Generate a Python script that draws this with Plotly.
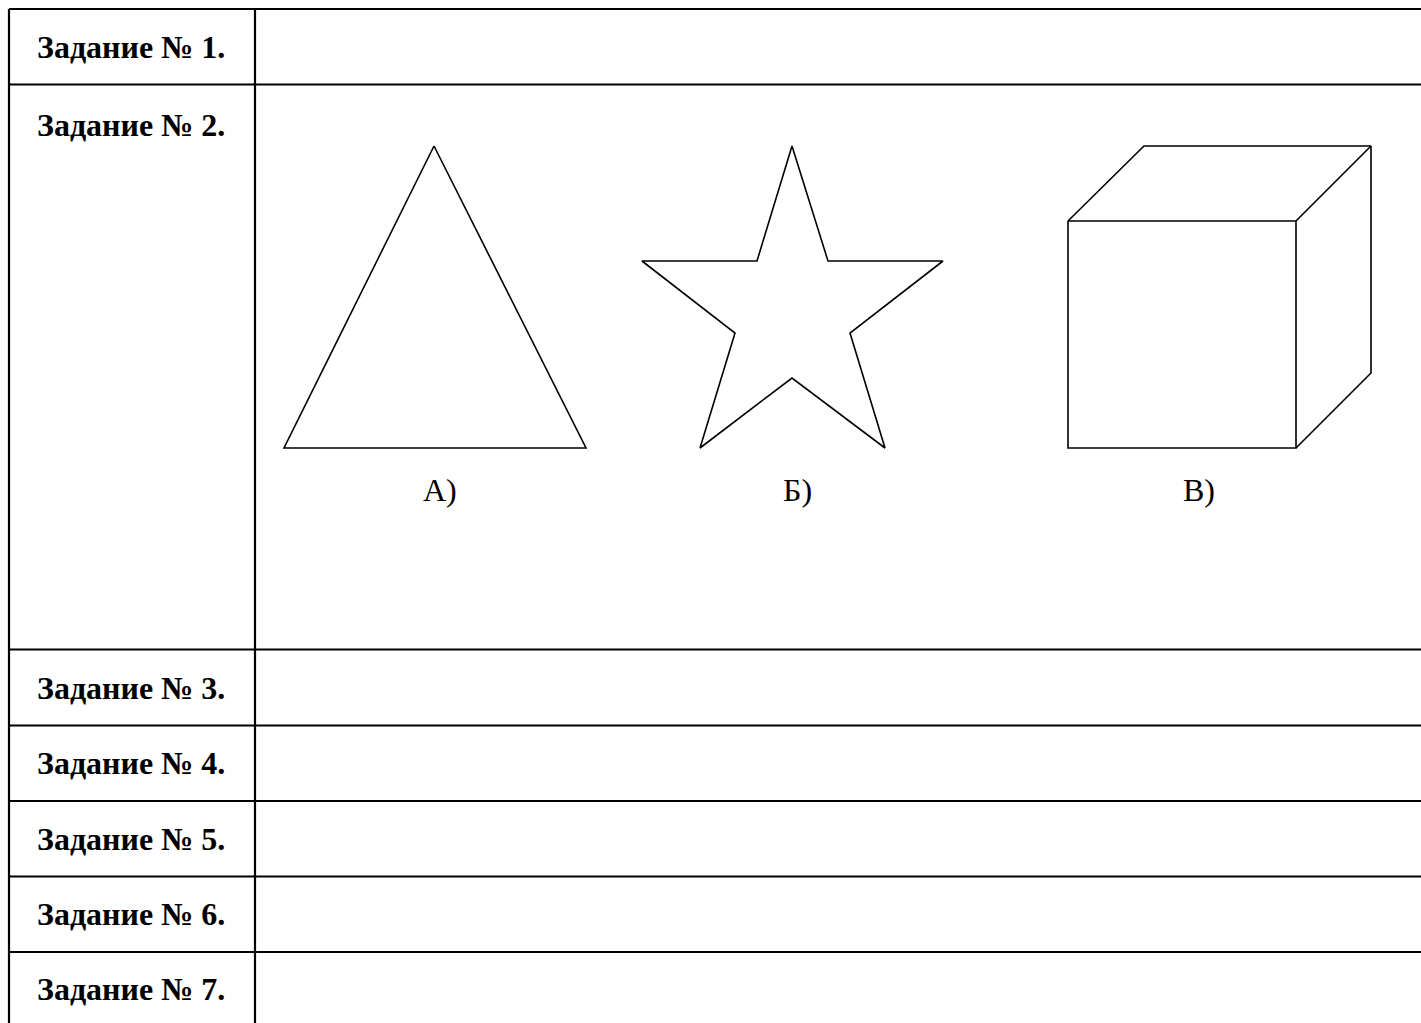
import plotly.graph_objects as go

# table layout (page pixels)
row_labels = ["Задание № 1.", "Задание № 2.", "Задание № 3.", "Задание № 4.",
              "Задание № 5.", "Задание № 6.", "Задание № 7."]
row_edges = [9, 84.5, 649.5, 725.5, 801, 876.5, 952, 1023]
col_edges = [9, 255]
table_right = 1421

# figures in task 2
triangle_x = [434, 284, 586, 434]
triangle_y = [146, 448, 448, 146]

star_x = [792, 828, 943, 850, 885, 792, 700, 735, 642, 757, 792]
star_y = [146, 261, 261, 333, 448, 378, 448, 333, 261, 261, 146]

cube_x = [1068, 1296, 1296, 1068, 1068, None, 1068, 1144, 1371, 1296, None, 1371, 1371, 1296]
cube_y = [221, 221, 448, 448, 221, None, 221, 146, 146, 221, None, 146, 373, 448]

figure_labels = ["А)", "Б)", "В)"]
figure_label_x = [440, 797, 1199]
figure_label_y = 489.5

fig = go.Figure()

# grid lines
grid_x, grid_y = [], []
for y in row_edges[:-1]:
    grid_x += [col_edges[0], table_right, None]
    grid_y += [y, y, None]
for x in col_edges:
    grid_x += [x, x, None]
    grid_y += [row_edges[0], row_edges[-1], None]
fig.add_trace(go.Scatter(x=grid_x, y=grid_y, mode="lines",
                         line=dict(color="black", width=2.2), hoverinfo="skip"))

for xs, ys in [(triangle_x, triangle_y), (star_x, star_y), (cube_x, cube_y)]:
    fig.add_trace(go.Scatter(x=xs, y=ys, mode="lines",
                             line=dict(color="black", width=1.6), hoverinfo="skip"))

# row headers
for i, label in enumerate(row_labels):
    top, bottom = row_edges[i], row_edges[i + 1]
    y = 124.5 if i == 1 else (top + bottom) / 2
    if i == 6:
        y = 988.5
    fig.add_annotation(x=35, y=y, text="<b>" + label + "</b>", showarrow=False,
                       xanchor="left", yanchor="middle",
                       font=dict(family="Liberation Serif", size=32, color="black"))

for label, x in zip(figure_labels, figure_label_x):
    fig.add_annotation(x=x, y=figure_label_y, text=label, showarrow=False,
                       xanchor="center", yanchor="middle",
                       font=dict(family="Liberation Serif", size=32, color="black"))

fig.update_xaxes(visible=False, range=[0, 1421], fixedrange=True)
fig.update_yaxes(visible=False, range=[1023, 0], fixedrange=True)
fig.update_layout(
    width=1421, height=1023,
    margin=dict(t=0, l=0, r=0, b=0),
    showlegend=False,
    plot_bgcolor="white", paper_bgcolor="white",
)

fig.write_html("out.html", config={"displayModeBar": False},
               post_script="document.body.style.margin='0';document.body.style.overflow='hidden';")
